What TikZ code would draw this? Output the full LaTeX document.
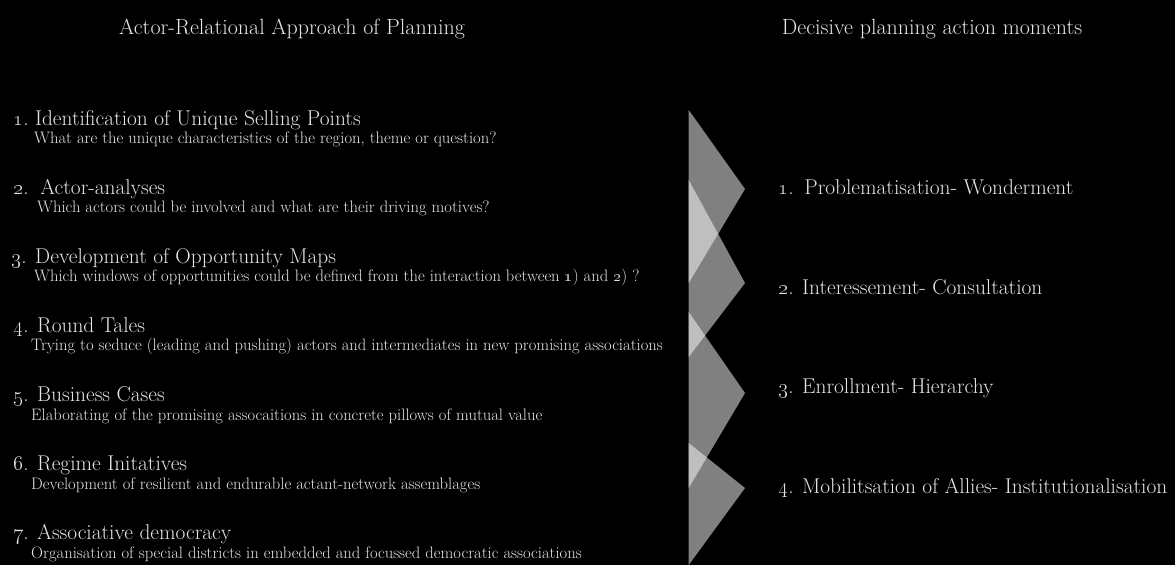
\documentclass[tikz,border=0pt]{standalone}
\usepackage{fix-cm}
\usepackage{tikz}
\usetikzlibrary{positioning}
\definecolor{letra}{gray}{0.9}

\begin{document}
\begin{tikzpicture}[x=1pt, y=-1pt, every node/.style={text=letra, inner sep=0pt},
        head/.style = {anchor=base, font=\fontsize{22}{26}\selectfont},
        title/.style = {anchor=base west, font=\fontsize{21.4}{25}\selectfont},
        sub/.style = {anchor=base west, font=\fontsize{16.6}{19}\selectfont},
        moment/.style = {anchor=base west, font=\fontsize{21.4}{25}\selectfont},
        tri/.style = {fill=white, fill opacity=0.5}]
        \path[fill=black, use as bounding box] (0,0) rectangle (1175,565);

        \node[head] (h1) at (292,34) {Actor-Relational Approach of Planning};
        \node[head] (h2) at (932,34) {Decisive planning action moments};

        \node[title] (1) at (13,125.5) {\oldstylenums{1}.\hspace{0.3em}Identification of Unique Selling Points};
        \node[sub] (1s) at (34,143) {What are the unique characteristics of the region, theme or question?};
        \node[title] (2) at (13,194.5) {\oldstylenums{2}.\hspace{0.55em}Actor-analyses};
        \node[sub] (2s) at (37,212) {Which actors could be involved and what are their driving motives?};
        \node[title] (3) at (11,263.5) {\oldstylenums{3}. Development of Opportunity Maps};
        \node[sub] (3s) at (34,281) {Which windows of opportunities could be defined from the interaction between \oldstylenums{1}) and \oldstylenums{2}) ?};
        \node[title] (4) at (13,332.5) {\oldstylenums{4}. Round Tales};
        \node[sub] (4s) at (31,350) {Trying to seduce (leading and pushing) actors and intermediates in new promising associations};
        \node[title] (5) at (13,401.5) {\oldstylenums{5}. Business Cases};
        \node[sub] (5s) at (31,420) {Elaborating of the promising assocaitions in concrete pillows of mutual value};
        \node[title] (6) at (13,470.5) {\oldstylenums{6}. Regime Initatives};
        \node[sub] (6s) at (31,489) {Development of resilient and endurable actant-network assemblages};
        \node[title] (7) at (13,539.5) {\oldstylenums{7}. Associative democracy};
        \node[sub] (7s) at (31,558) {Organisation of special districts in embedded and focussed democratic associations};

        % triangles
        \path[tri] (688.7,110) -- (745,189) -- (688.7,283) -- cycle;
        \path[tri] (688.7,180) -- (745,283) -- (688.7,357) -- cycle;
        \path[tri] (688.7,312) -- (745,393) -- (688.7,488) -- cycle;
        \path[tri] (688.7,443) -- (745,488) -- (688.7,565) -- cycle;

        \node[moment] (m1) at (778,194) {\oldstylenums{1}.\hspace{0.5em}Problematisation- Wonderment};
        \node[moment] (m2) at (778,294) {\oldstylenums{2}. Interessement- Consultation};
        \node[moment] (m3) at (778,393) {\oldstylenums{3}. Enrollment- Hierarchy};
        \node[moment] (m4) at (778,493) {\oldstylenums{4}. Mobilitsation of Allies- Institutionalisation};
\end{tikzpicture}
\end{document}
